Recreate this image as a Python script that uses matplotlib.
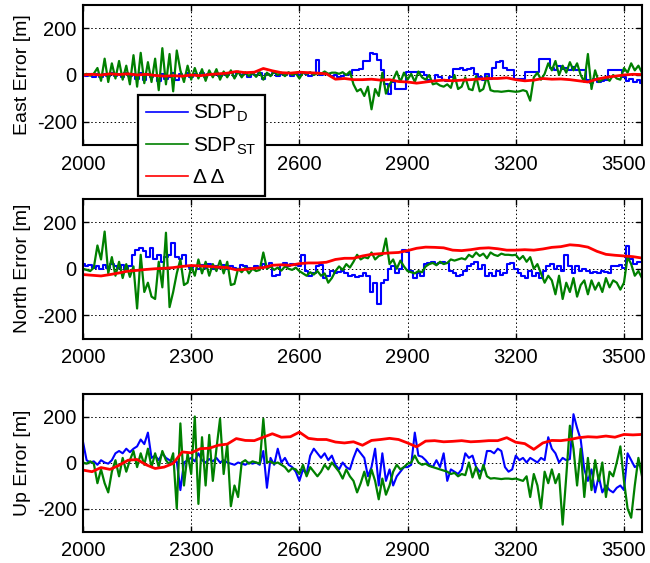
import numpy as np
import matplotlib
matplotlib.use("Agg")
import matplotlib.pyplot as plt

plt.rcParams['font.family'] = ['Liberation Sans', 'DejaVu Sans']
plt.rcParams['mathtext.fontset'] = 'custom'
plt.rcParams['mathtext.rm'] = 'Liberation Sans'
plt.rcParams['mathtext.it'] = 'Liberation Sans:italic'
plt.rcParams['axes.unicode_minus'] = False

# ---------------- data ----------------
x_fine = np.arange(2000, 3551, 10)     # SDP series sample epochs
x_coarse = np.arange(2000, 3551, 25)   # delta-delta sample epochs

east_sdp_d = [
    0, -5, 5, -8, 3, -10, 5, -5, 8, -3,
    5, -10, 10, -5, 3, -15, 10, -20, 5, -8,
    0, -25, 5, -15, -10, 10, -20, 5, -5, 8,
    -10, 5, -5, 10, -8, 5, 0, 8, -5, 5,
    0, 10, -5, 8, 0, 5, -10, 5, 0, 8,
    -15, 5, 0, 10, -5, 5, 0, 10, -5, 5,
    0, 10, 5, -5, 8, 63, 0, 10, 5, -5,
    0, -10, -5, 0, 5, 20, 20, 25, 60, 60,
    95, 90, 65, 20, -40, -80, -30, -60, -60, -60,
    15, 15, 15, 15, 15, 0, -20, -25, 0, -10,
    -20, -25, -10, 25, 25, 30, 20, 25, 30, 5,
    -10, -20, 5, -15, 30, 55, 60, 30, 20, 20,
    -15, -15, -15, 15, 15, 15, 15, 70, 70, 70,
    30, 20, 40, 25, 30, 20, 35, 20, 20, 20,
    -20, -35, -15, -30, -25, -20, 20, 20, 20, 20,
    -10, -25, -15, -30, -20, -33,
]
east_sdp_st = [
    0, 5, -3, 6, 30, -25, 70, -30, 50, -15,
    60, -20, 40, -40, 85, -50, 95, -35, 55, -30,
    70, -65, 115, -40, 90, -70, 105, 20, -30, 40,
    -20, 30, -15, 25, -25, 20, -10, 25, -20, 15,
    -10, 20, -15, 15, -10, 12, -5, 10, -8, 12,
    -20, 10, -5, 15, 0, 10, -5, 12, 0, 8,
    -15, 10, 5, 12, 0, 8, 5, 15, 5, 10,
    10, 5, 12, 0, 15, -40, -70, -60, -90, -50,
    -147, -60, -90, 10, -80, -40, -20, 15, -30, 10,
    -20, 5, -30, 15, -10, -20, 0, -40, -35, -45,
    -50, -40, -55, 0, -60, -50, -10, -60, -65, -5,
    -70, -60, -5, -65, -70, -70, -72, -70, -68, -70,
    -72, -70, -65, -70, -110, -10, 10, -20, 5, 50,
    20, 60, 0, 40, 10, 55, 20, 50, 0, -30,
    90, -60, 20, -30, -20, -10, -25, 0, -15, -20,
    30, 10, 50, 20, 40, 10,
]
east_dd = [
    0, 3, 0, 5, 2, 5, 0, 3, -2, -5, -3, -5, 0, -3, 2, 5, 8, 15, 10, 12,
    28, 18, 10, 8, 12, 10, 8, 5, -18, -15, -20, -20, -18, -22, -20, -28,
    -30, -35, -30, -25, -22, -25, -22, -20, -17, -15, -15, -12, -20, -25,
    -22, -15, -18, -17, -20, -25, -30, -18, -10, -5, 0, 3, 2,
]

north_sdp_d = [
    20, 10, 15, 5, 10, 0, 15, 5, 20, 10,
    5, 15, 0, 10, 60, 80, 90, 75, 50, 90,
    40, 60, 30, 50, 60, 110, 50, 40, 60, 10,
    5, 10, 0, 15, 5, 20, 0, 10, 5, 15,
    0, 10, 5, 0, 15, 10, 5, 0, 10, 5,
    20, 10, 25, -30, -25, 15, 25, 10, 20, 15,
    10, 60, -10, -30, -20, 10, 15, -40, -30, -10,
    -20, -15, -10, -20, -30, -25, -35, -30, -20, -30,
    -100, -60, -150, -60, -50, 0, 10, -20, 0, 80,
    70, -10, -40, -20, -30, 20, 25, 30, 20, 25,
    30, 25, -10, -20, -30, -25, -10, 10, 20, 30,
    0, 15, -30, -20, -30, -10, -25, -20, 20, 25,
    0, -20, -30, -40, -10, -30, -20, -40, -10, 10,
    20, 0, 10, -10, 60, 10, -20, 10, -10, 0,
    -10, -20, -15, -20, -10, -15, -20, 10, 10, 15,
    5, 100, 40, 20, 30, 30,
]
north_sdp_st = [
    0, -5, -10, 5, 100, 40, 160, -20, 50, -30,
    30, -40, 20, -35, 10, -171, 60, -100, -60, -120,
    -130, 30, -80, 155, -165, -100, -20, 40, -70, -60,
    10, -30, 40, -20, 30, -30, 20, -10, 35, -20,
    30, -70, -65, 0, -15, 5, -20, 0, -10, -5,
    70, 0, 10, -5, 5, -8, 10, 0, -5, 5,
    -10, -20, -30, -15, -25, -10, -30, -20, -60, -40,
    -10, 10, -5, 20, 5, 30, 60, 40, 50, 45,
    70, 40, 55, 60, 130, 20, 40, 0, 35, 10,
    -10, -15, -20, -10, -15, 10, 20, 25, 15, 30,
    20, 25, 40, 35, 40, 45, 40, 60, 50, 70,
    55, 65, 45, 70, 60, 55, 65, 60, 60, 58,
    60, 40, 55, 30, 50, 0, 20, -20, -60, -30,
    -50, -110, -30, -130, -60, -100, -40, -120, -70, -50,
    -110, -50, -90, -60, -100, -40, -80, -50, -60, -90,
    -60, 50, 20, -30, -10, -40,
]
north_dd = [
    -25, -28, -31, -25, -18, -10, -7, -3, 0, 2, 5, 10, 14, 12, 10, 7, 5, -5,
    -3, 2, 5, 15, 17, 15, 22, 25, 25, 28, 40, 45, 45, 55, 62, 65, 68, 70,
    78, 88, 93, 92, 90, 80, 78, 82, 88, 90, 86, 80, 80, 82, 80, 85, 92, 95,
    103, 100, 93, 75, 62, 58, 55, 52, 46,
]

up_sdp_d = [
    90, 10, 0, 5, -10, 10, 0, -5, 10, 40,
    50, 40, 60, 45, 60, 70, 100, 80, 130, 20,
    30, 10, 40, 20, 10, 0, 5, -120, 0, 10,
    20, 5, 40, 10, 0, 15, 5, 20, 0, 10,
    0, -5, -10, 0, -5, -10, 0, -5, 0, -10,
    50, -110, 20, -10, 60, 0, 20, -10, -20, -40,
    -80, -30, -50, 30, 60, 40, 20, 40, 10, 30,
    -10, -30, 0, -20, -30, 20, 60, 40, 20, -60,
    -20, 60, -100, 40, -80, -30, -100, -60, -40, -20,
    -20, -10, 130, 30, 25, 10, -10, -20, 10, -20,
    40, -80, -30, -40, -50, -30, 40, 20, 30, -20,
    -40, -30, 50, 50, 40, 60, 50, -20, -40, -30,
    30, 10, 20, 0, 20, 10, 0, 20, 10, 110,
    60, 40, 0, 20, 10, 15, 210, 150, 100, -30,
    -80, -30, -130, -60, -130, -100, -120, -130, -110, -100,
    -120, 40, 10, -20, -10, -20,
]
up_sdp_st = [
    0, -5, 5, -5, -90, -30, -90, -130, -40, 10,
    -60, 20, -40, 10, 50, -20, 40, -10, 60, -20,
    40, -20, 50, 10, -10, 40, -200, 170, -100, 40,
    -50, 200, -180, 110, -100, 120, -80, 60, 190, -50,
    80, -190, -100, -150, 0, 10, -5, 5, 0, -5,
    190, 0, 5, -5, 0, -10, -20, -40, -25, -30,
    -50, -10, -60, -20, -40, -60, -40, -10, -30, 0,
    -20, -40, -70, -30, -60, -80, -130, -90, -40, -100,
    -30, -80, -160, -70, -140, -100, -40, -10, -30, -20,
    -5, 0, 30, 0, -10, -5, -15, -20, -25, -30,
    -35, -40, -50, -45, -60, -50, -55, 0, -65, -20,
    -70, -10, -60, -70, -68, -70, -72, -70, -70, -72,
    -70, -75, -80, -60, -150, -50, -100, -200, -40, -90,
    -30, -90, -50, -270, -60, 160, 60, -100, 60, -150,
    20, -120, 10, -80, 0, -150, -40, -60, 0, 70,
    -80, -200, -240, -100, 20, -60,
]
up_dd = [
    -33, -40, -22, -30, -12, 10, 13, -10, -26, -20, -4, 46, 42, 60, 62, 75,
    80, 104, 96, 95, 110, 125, 110, 112, 132, 105, 100, 100, 89, 85, 90, 75,
    96, 100, 105, 100, 85, 68, 93, 95, 90, 92, 95, 90, 92, 95, 95, 108, 88,
    82, 57, 85, 96, 95, 100, 108, 112, 110, 115, 110, 122, 120, 122,
]

panel_labels = ['East Error [m]', 'North Error [m]', 'Up Error [m]']
legend_labels = [r'SDP$_{\mathrm{D}}$', r'SDP$_{\mathrm{ST}}$', '\u0394 \u0394']
x_ticks = [2000, 2300, 2600, 2900, 3200, 3500]
y_ticks = [-200, 0, 200]

series = [
    (east_sdp_d, east_sdp_st, east_dd),
    (north_sdp_d, north_sdp_st, north_dd),
    (up_sdp_d, up_sdp_st, up_dd),
]
blue_styles = ['steps-mid', 'steps-mid', 'default']

# ---------------- figure ----------------
W, H = 650, 563
fig = plt.figure(figsize=(W / 100, H / 100), dpi=100)

boxes = [(5, 145), (199, 338.5), (393.5, 531.5)]
left_px, right_px = 83, 642

blue = (0, 0, 1)
green = (0, 0.5, 0)
red = (1, 0, 0)

handles = None
axes = []
for (top, bot), lab, (sd, st, dd), bstyle in zip(boxes, panel_labels, series, blue_styles):
    ax = fig.add_axes([left_px / W, 1 - bot / H, (right_px - left_px) / W, (bot - top) / H])
    l1, = ax.plot(x_fine, sd, color=blue, lw=1.5, drawstyle=bstyle)
    l2, = ax.plot(x_fine, st, color=green, lw=1.6)
    l3, = ax.plot(x_coarse, dd, color=red, lw=2.0)
    ax.set_xlim(2000, 3550)
    ax.set_ylim(-300, 300)
    ax.set_xticks(x_ticks)
    ax.set_yticks(y_ticks)
    ax.grid(True, linestyle=(0, (1.5, 2.5)), color='black', linewidth=0.7)
    ax.tick_params(direction='in', top=True, right=True, length=4.5, width=1.0,
                   labelsize=14.5, pad=4.5)
    ax.tick_params(axis='x', pad=7)
    for sp in ax.spines.values():
        sp.set_linewidth(1.5)
    ax.set_ylabel(lab, fontsize=14)
    ax.yaxis.set_label_coords(-0.093, 0.5)
    axes.append(ax)
    if handles is None:
        handles = [l1, l2, l3]

# the top panel's 2300 label sits entirely under the opaque legend box
axes[0].get_xticklabels()[1].set_visible(False)

leg = fig.legend(handles, legend_labels, loc='upper left',
                 bbox_to_anchor=(137.5 / W, 1 - 94.5 / H),
                 fontsize=15, frameon=True, fancybox=False, framealpha=1,
                 edgecolor='black', handlelength=2.0, handletextpad=0.25,
                 labelspacing=0.55, borderpad=0.4, borderaxespad=0)
leg.get_frame().set_linewidth(1.6)
for h in leg.legend_handles:
    h.set_linewidth(1.2)
    h.set_drawstyle('default')

fig.savefig('out.png', dpi=100)
